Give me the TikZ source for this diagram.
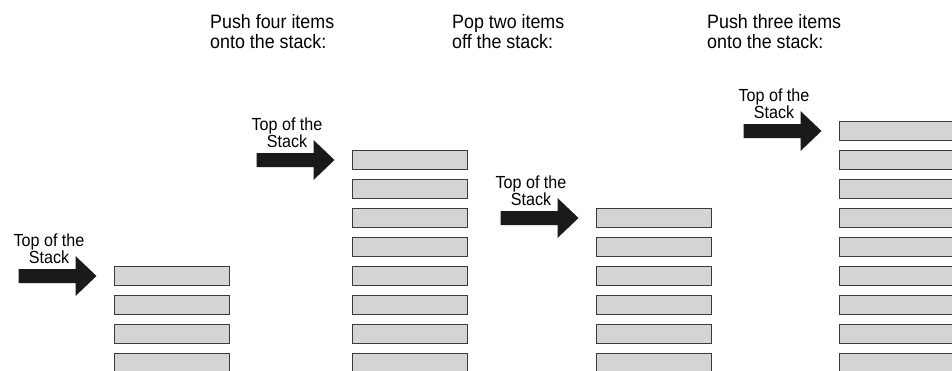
\documentclass[tikz,border=0pt]{standalone}
\usepackage{fontspec}
\setmainfont{Liberation Sans}
\newfontfamily\condfont[FakeStretch=0.92]{Liberation Sans}
\usetikzlibrary{calc}
\definecolor{cellfill}{HTML}{D3D4D6}
\definecolor{cellline}{HTML}{3A3A3A}
\definecolor{arrowc}{HTML}{1A1A1A}
\begin{document}
\begin{tikzpicture}[x=1pt,y=-1pt,
  cell/.style={draw=cellline, fill=cellfill, line width=1.1pt, minimum width=115pt,
    minimum height=19pt, inner sep=0pt, outer sep=0pt},
  lbl/.style={font=\condfont\fontsize{17.5}{17}\selectfont, align=center, inner sep=0pt, anchor=base},
  heading/.style={font=\condfont\fontsize{19.4}{20}\selectfont, align=left, inner sep=0pt, anchor=base west},
  ptr/.style={fill=arrowc}]
\useasboundingbox (0,0) rectangle (952,370);
\clip (0,0) rectangle (952,370);
% stacks
\foreach \i in {1,...,4}
  \node[cell] (a\i) at (172, {276+29*(\i-1)}) {};
\foreach \i in {1,...,8}
  \node[cell] (b\i) at (410, {160+29*(\i-1)}) {};
\foreach \i in {1,...,6}
  \node[cell] (c\i) at (654, {218+29*(\i-1)}) {};
\foreach \i in {1,...,9}
  \node[cell] (d\i) at (897, {131+29*(\i-1)}) {};
% pointers
\foreach \s in {a,b,c,d}{
  \path (\s1.west) ++(-18,0) coordinate (t\s);
  \fill[ptr] (t\s) -- ++(-21,-20) -- ++(0,13) -- ++(-57,0) -- ++(0,14) -- ++(57,0) -- ++(0,13) -- cycle;
  \node[lbl] (l\s) at ($(t\s)+(-47.5,-13)$) {Top of the\\Stack};
}
% headings
\node[heading] (h1) at (210,48) {Push four items\\onto the stack:};
\node[heading] (h2) at (452,48) {Pop two items\\off the stack:};
\node[heading] (h3) at (707,48) {Push three items\\onto the stack:};
\end{tikzpicture}
\end{document}
